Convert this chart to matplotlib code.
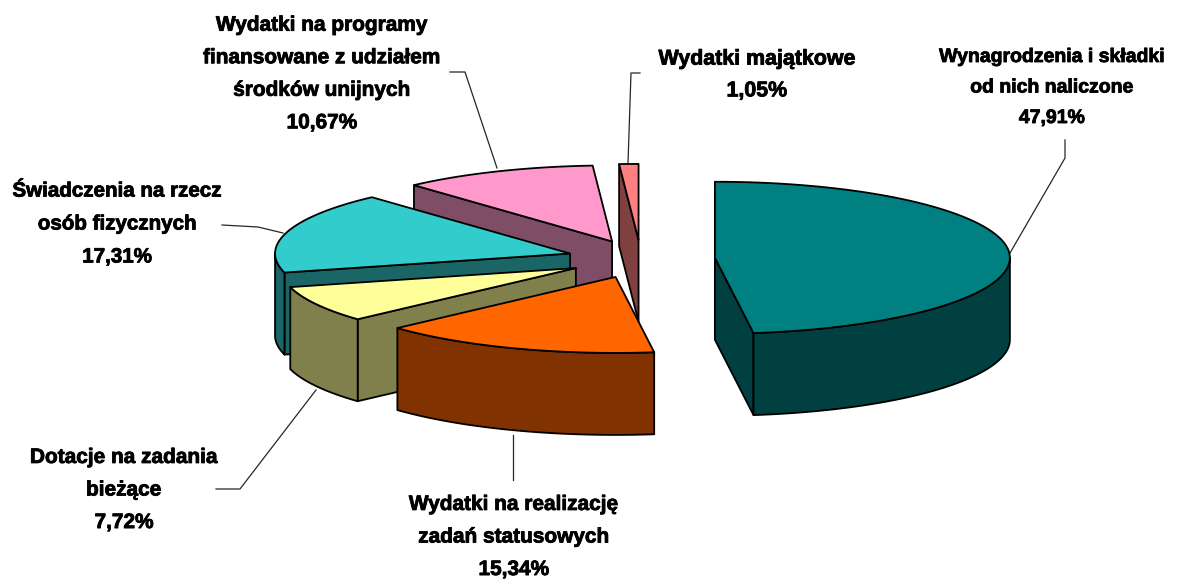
#!/usr/bin/env python
"""Exploded 3D-look pie of budget spending shares."""

import matplotlib

matplotlib.use("Agg")
import matplotlib.patheffects as pe
import matplotlib.pyplot as plt
import numpy as np
from matplotlib.patches import Polygon

LABELS = [
    "Wynagrodzenia i składki\nod nich naliczone",
    "Wydatki na realizację\nzadań statusowych",
    "Dotacje na zadania\nbieżące",
    "Świadczenia na rzecz\nosób fizycznych",
    "Wydatki na programy\nfinansowane z udziałem\nśrodków unijnych",
    "Wydatki majątkowe",
]
VALUES = [47.91, 15.34, 7.72, 17.31, 10.67, 1.05]
TOP_COLORS = ["#008080", "#FF6600", "#FFFF99", "#33CCCC", "#FF99CC", "#FF8080"]
WALL_COLORS = ["#004040", "#803300", "#80804D", "#1A6666", "#804D66", "#804040"]

# pie geometry in pixels
CENTER = (641.0, 259.0)
RX, RY = 295.0, 76.0
DEPTH = 82.0
EXPLODE = 0.251
DRAW_ORDER = [5, 4, 3, 2, 1, 0]

LABEL_POS = [(1052, 88), (514, 537), (124, 490), (117, 224), (322, 74), (757, 75)]
LABEL_SIZES = [14.0, 15, 15, 14.8, 15, 15.4]
LEADERS = [
    [(1065, 140), (1065, 158), (1010, 253)],
    [(513, 480), (513, 435)],
    [(216, 489), (240, 489), (316, 390)],
    [(222, 225), (258, 227), (283, 233)],
    [(450, 72), (465, 72), (497, 168)],
    [(640, 73), (631, 73), (628, 163)],
]


def rim(apex, theta):
    """Rim point(s) for angles measured clockwise from 12 o'clock."""
    theta = np.asarray(theta)
    return np.column_stack([apex[0] + RX * np.sin(theta), apex[1] - RY * np.cos(theta)])


def face(ax, points, color, zorder):
    ax.add_patch(Polygon(points, closed=True, facecolor=color, edgecolor="black", linewidth=1.3, joinstyle="round", zorder=zorder))


def draw_slice(ax, start, stop, top_color, wall_color, zorder):
    mid = (start + stop) / 2
    apex = (CENTER[0] + EXPLODE * RX * np.sin(mid), CENTER[1] - EXPLODE * RY * np.cos(mid))
    drop = np.array([0, DEPTH])
    arc = rim(apex, np.linspace(start, stop, 80))
    mid_point = rim(apex, [mid])[0]

    for theta in (start, stop):
        edge = rim(apex, [theta])[0]
        dx, dy = edge[0] - apex[0], edge[1] - apex[1]
        if abs(dx) < 1:
            continue
        # a cut face shows only when the top of the slice lies behind its edge
        if mid_point[1] < apex[1] + dy / dx * (mid_point[0] - apex[0]):
            corners = np.array([apex, edge, edge + drop, np.array(apex) + drop])
            face(ax, corners, wall_color, zorder)

    lo, hi = max(start, np.pi / 2), min(stop, 3 * np.pi / 2)
    if hi > lo:
        front = rim(apex, np.linspace(lo, hi, 80))
        face(ax, np.vstack([front, (front + drop)[::-1]]), wall_color, zorder + 0.1)

    face(ax, np.vstack([[apex], arc]), top_color, zorder + 0.2)


def main():
    fig = plt.figure(figsize=(12.03, 5.81), dpi=100)
    ax = fig.add_axes([0, 0, 1, 1])
    ax.set_xlim(0, 1203)
    ax.set_ylim(581, 0)
    ax.axis("off")

    values = np.asarray(VALUES)
    bounds = np.concatenate([[0], np.cumsum(values) / values.sum()]) * 2 * np.pi

    for order, i in enumerate(DRAW_ORDER):
        draw_slice(ax, bounds[i], bounds[i + 1], TOP_COLORS[i], WALL_COLORS[i], 2 + order)

    for path in LEADERS:
        xs, ys = zip(*path)
        ax.plot(xs, ys, color="0.15", linewidth=0.9, zorder=1)

    for label, value, (x, y), size in zip(LABELS, VALUES, LABEL_POS, LABEL_SIZES):
        text = f"{label}\n{value:.2f}%".replace(".", ",")
        ax.text(
            x, y, text, ha="center", va="center", family="Liberation Sans", fontweight="bold", fontsize=size,
            linespacing=2.13 * 13.4 / size, color="black", zorder=20,
            path_effects=[pe.withStroke(linewidth=0.6, foreground="black")],
        )

    fig.savefig("out.png", dpi=100)


if __name__ == "__main__":
    main()
